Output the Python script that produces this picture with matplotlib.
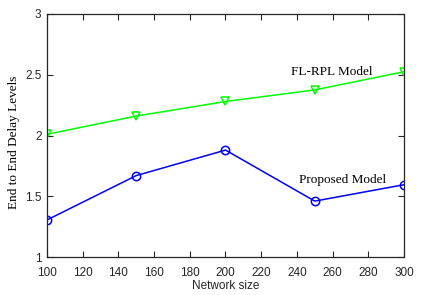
import matplotlib
matplotlib.use("Agg")
import matplotlib.pyplot as plt

network_size = [100, 150, 200, 250, 300]
fl_rpl = [2.01, 2.16, 2.28, 2.375, 2.525]
proposed = [1.305, 1.67, 1.88, 1.46, 1.595]
xticks = [100, 120, 140, 160, 180, 200, 220, 240, 260, 280, 300]
yticks = [1, 1.5, 2, 2.5, 3]

fig = plt.figure(figsize=(4.39, 2.95), dpi=100)
ax = fig.add_axes([47/439, 1 - 257/295, (404-47)/439, (257-14)/295])

ax.plot(network_size, fl_rpl, color='#00ff00', lw=1.1, marker='v', ms=6,
        mfc='none', mec='#00ff00', mew=1.1)
ax.plot(network_size, proposed, color='#0000ff', lw=1.1, marker='o', ms=6,
        mfc='none', mec='#0000ff', mew=1.1)

ax.set_xlim(100, 300)
ax.set_ylim(1, 3)
ax.set_xticks(xticks)
ax.set_yticks(yticks)
ax.set_yticklabels(['1', '1.5', '2', '2.5', '3'])
ax.tick_params(direction='in', top=True, right=True, labelsize=8.5, length=4,
               width=0.8, colors='#262626', labelcolor='#262626')
ax.tick_params(axis='x', pad=7)
ax.tick_params(axis='y', pad=4)
for lbl in ax.get_xticklabels() + ax.get_yticklabels():
    lbl.set_family('Liberation Sans')
for s in ax.spines.values():
    s.set_linewidth(0.9)
    s.set_color('#262626')

ax.set_xlabel('Network size', family='Liberation Sans', fontsize=8.5, color='#262626', labelpad=1)
ax.set_ylabel('End to End Delay Levels', family='Liberation Serif', fontsize=9.5)
ax.yaxis.set_label_coords(-0.075, 0.47)

ax.text(236.5, 2.52, 'FL-RPL Model', family='Liberation Serif', fontsize=9.5, va='center', ha='left')
ax.text(241, 1.63, 'Proposed Model', family='Liberation Serif', fontsize=9.5, va='center', ha='left')

fig.savefig('out.png', dpi=100)
